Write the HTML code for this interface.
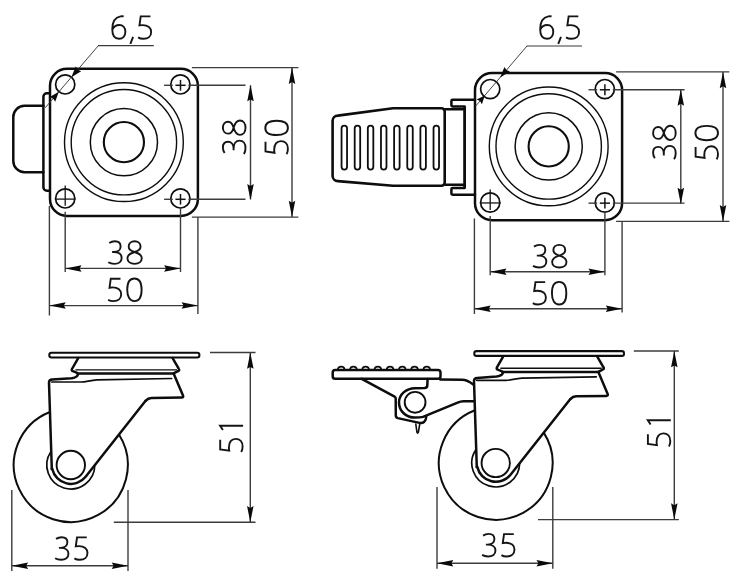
<!DOCTYPE html>
<html><head><meta charset="utf-8"><title>Caster drawing</title>
<style>
html,body{margin:0;padding:0;background:#fff;}
body{width:740px;height:580px;overflow:hidden;font-family:"Liberation Sans",sans-serif;}
svg{display:block}
</style></head><body>
<svg width="740" height="580" viewBox="0 0 740 580">
<rect width="740" height="580" fill="#ffffff"/>
<path d="M67.00,68.80 H180.90 A17.0,17.0 0 0 1 197.90,85.80 V198.90 A17.0,17.0 0 0 1 180.90,215.90 H67.00 A17.0,17.0 0 0 1 50.00,198.90 V85.80 A17.0,17.0 0 0 1 67.00,68.80 Z" fill="none" stroke="#0d0d0d" stroke-width="2.5" stroke-linejoin="round" stroke-linecap="round"/>
<circle cx="123.90" cy="142.15" r="59.40" fill="none" stroke="#0d0d0d" stroke-width="1.4"/>
<circle cx="123.90" cy="142.15" r="52.70" fill="none" stroke="#0d0d0d" stroke-width="1.4"/>
<circle cx="123.90" cy="142.15" r="33.60" fill="none" stroke="#0d0d0d" stroke-width="1.5"/>
<circle cx="123.90" cy="142.15" r="20.10" fill="none" stroke="#0d0d0d" stroke-width="2.1"/>
<circle cx="65.20" cy="84.40" r="9.60" fill="none" stroke="#0d0d0d" stroke-width="1.7"/>
<circle cx="65.20" cy="198.40" r="9.60" fill="none" stroke="#0d0d0d" stroke-width="1.7"/>
<circle cx="180.40" cy="84.40" r="9.60" fill="none" stroke="#0d0d0d" stroke-width="1.7"/>
<circle cx="180.40" cy="198.40" r="9.60" fill="none" stroke="#0d0d0d" stroke-width="1.7"/>
<path d="M43.4,105.8 H24.5 A11.2,11.2 0 0 0 13.3,117 V161 A11.2,11.2 0 0 0 24.5,172.2 H43.4" fill="none" stroke="#0d0d0d" stroke-width="2.5" stroke-linejoin="round" stroke-linecap="round"/>
<path d="M49.8,93.3 H46.9 A3.5,3.5 0 0 0 43.4,96.8 V187.2 A3.5,3.5 0 0 0 46.9,190.7 H49.8" fill="none" stroke="#0d0d0d" stroke-width="2.5" stroke-linejoin="round" stroke-linecap="round"/>
<line x1="164.10" y1="85.30" x2="172.80" y2="85.30" stroke="#3c3c3c" stroke-width="1.4" stroke-linecap="butt"/>
<line x1="188.40" y1="85.30" x2="245.50" y2="85.30" stroke="#3c3c3c" stroke-width="1.4" stroke-linecap="butt"/>
<line x1="175.40" y1="85.30" x2="185.60" y2="85.30" stroke="#151515" stroke-width="1.5" stroke-linecap="butt"/>
<line x1="164.10" y1="199.30" x2="172.80" y2="199.30" stroke="#3c3c3c" stroke-width="1.4" stroke-linecap="butt"/>
<line x1="188.40" y1="199.30" x2="245.50" y2="199.30" stroke="#3c3c3c" stroke-width="1.4" stroke-linecap="butt"/>
<line x1="175.40" y1="199.30" x2="185.60" y2="199.30" stroke="#151515" stroke-width="1.5" stroke-linecap="butt"/>
<line x1="180.50" y1="79.90" x2="180.50" y2="90.70" stroke="#151515" stroke-width="1.5" stroke-linecap="butt"/>
<line x1="180.50" y1="194.00" x2="180.50" y2="204.60" stroke="#151515" stroke-width="1.5" stroke-linecap="butt"/>
<line x1="180.50" y1="208.00" x2="180.50" y2="272.00" stroke="#3c3c3c" stroke-width="1.4" stroke-linecap="butt"/>
<line x1="65.20" y1="185.50" x2="65.20" y2="205.80" stroke="#151515" stroke-width="1.3" stroke-linecap="butt"/>
<line x1="65.20" y1="211.80" x2="65.20" y2="272.00" stroke="#3c3c3c" stroke-width="1.4" stroke-linecap="butt"/>
<line x1="54.80" y1="199.10" x2="75.60" y2="199.10" stroke="#151515" stroke-width="1.3" stroke-linecap="butt"/>
<line x1="191.90" y1="67.60" x2="298.40" y2="67.60" stroke="#3c3c3c" stroke-width="1.4" stroke-linecap="butt"/>
<line x1="191.90" y1="217.10" x2="298.40" y2="217.10" stroke="#3c3c3c" stroke-width="1.4" stroke-linecap="butt"/>
<line x1="250.50" y1="85.30" x2="250.50" y2="199.30" stroke="#3c3c3c" stroke-width="1.4" stroke-linecap="butt"/>
<polygon points="250.50,85.00 247.25,101.30 250.50,99.40 253.75,101.30" fill="#0a0a0a"/>
<polygon points="250.50,200.30 253.75,184.00 250.50,185.90 247.25,184.00" fill="#0a0a0a"/>
<line x1="292.00" y1="67.60" x2="292.00" y2="217.10" stroke="#3c3c3c" stroke-width="1.4" stroke-linecap="butt"/>
<polygon points="292.00,67.60 288.75,83.90 292.00,82.00 295.25,83.90" fill="#0a0a0a"/>
<polygon points="292.00,217.10 295.25,200.80 292.00,202.70 288.75,200.80" fill="#0a0a0a"/>
<line x1="49.40" y1="205.90" x2="49.40" y2="315.50" stroke="#3c3c3c" stroke-width="1.4" stroke-linecap="butt"/>
<line x1="197.90" y1="217.10" x2="197.90" y2="314.00" stroke="#3c3c3c" stroke-width="1.4" stroke-linecap="butt"/>
<line x1="65.20" y1="268.40" x2="180.40" y2="268.40" stroke="#3c3c3c" stroke-width="1.4" stroke-linecap="butt"/>
<polygon points="65.20,268.40 81.50,271.65 79.60,268.40 81.50,265.15" fill="#0a0a0a"/>
<polygon points="180.40,268.40 164.10,265.15 166.00,268.40 164.10,271.65" fill="#0a0a0a"/>
<line x1="49.40" y1="305.60" x2="197.90" y2="305.60" stroke="#3c3c3c" stroke-width="1.4" stroke-linecap="butt"/>
<polygon points="49.40,305.60 65.70,308.85 63.80,305.60 65.70,302.35" fill="#0a0a0a"/>
<polygon points="197.90,305.60 181.60,302.35 183.50,305.60 181.60,308.85" fill="#0a0a0a"/>
<g transform="translate(125.30,252.60) rotate(0)" fill="none" stroke="#151515" stroke-width="1.9" stroke-linecap="butt" stroke-linejoin="miter">
<path transform="translate(-17.71,-12.2)" d="M1.68,2.6 C3.26,1.5 5.15,0.9 7.25,0.9 C10.92,0.9 13.02,3 13.02,6 C13.02,9.2 10.29,11.6 6.30,11.6 L4.51,11.6 M6.30,11.6 C11.13,11.6 14.07,13.9 14.07,17.5 C14.07,21.2 11.13,23.5 6.72,23.5 C4.30,23.5 2.10,22.8 0.73,21.9"/>
<path transform="translate(0.91,-12.2)" d="M8.40,11.6 C4.70,10.6 2.46,8.8 2.46,6.1 C2.46,3 5.04,0.9 8.40,0.9 C11.76,0.9 14.34,3 14.34,6.1 C14.34,8.8 12.10,10.6 8.40,11.6 C4.03,12.9 1.23,14.8 1.23,17.9 C1.23,21.2 4.26,23.5 8.40,23.5 C12.54,23.5 15.57,21.2 15.57,17.9 C15.57,14.8 12.77,12.9 8.40,11.6 Z"/>
</g>
<g transform="translate(125.30,289.80) rotate(0)" fill="none" stroke="#151515" stroke-width="1.9" stroke-linecap="butt" stroke-linejoin="miter">
<path transform="translate(-17.78,-12.2)" d="M12.96,1.1 L3.24,1.1 L1.99,10.1 C3.03,9.9 4.08,9.8 5.22,9.8 C10.45,9.8 13.69,12.3 13.69,16.6 C13.69,20.8 10.66,23.5 6.06,23.5 C3.76,23.5 1.78,22.9 0.63,22.1"/>
<path transform="translate(0.45,-12.2)" d="M8.66,0.9 C13.22,0.9 15.85,5.2 15.85,12.2 C15.85,19.2 13.22,23.5 8.66,23.5 C4.10,23.5 1.48,19.2 1.48,12.2 C1.48,5.2 4.10,0.9 8.66,0.9 Z"/>
</g>
<g transform="translate(234.20,137.00) rotate(-90)" fill="none" stroke="#151515" stroke-width="1.9" stroke-linecap="butt" stroke-linejoin="miter">
<path transform="translate(-17.71,-12.2)" d="M1.68,2.6 C3.26,1.5 5.15,0.9 7.25,0.9 C10.92,0.9 13.02,3 13.02,6 C13.02,9.2 10.29,11.6 6.30,11.6 L4.51,11.6 M6.30,11.6 C11.13,11.6 14.07,13.9 14.07,17.5 C14.07,21.2 11.13,23.5 6.72,23.5 C4.30,23.5 2.10,22.8 0.73,21.9"/>
<path transform="translate(0.91,-12.2)" d="M8.40,11.6 C4.70,10.6 2.46,8.8 2.46,6.1 C2.46,3 5.04,0.9 8.40,0.9 C11.76,0.9 14.34,3 14.34,6.1 C14.34,8.8 12.10,10.6 8.40,11.6 C4.03,12.9 1.23,14.8 1.23,17.9 C1.23,21.2 4.26,23.5 8.40,23.5 C12.54,23.5 15.57,21.2 15.57,17.9 C15.57,14.8 12.77,12.9 8.40,11.6 Z"/>
</g>
<g transform="translate(276.60,137.00) rotate(-90)" fill="none" stroke="#151515" stroke-width="1.9" stroke-linecap="butt" stroke-linejoin="miter">
<path transform="translate(-17.78,-12.2)" d="M12.96,1.1 L3.24,1.1 L1.99,10.1 C3.03,9.9 4.08,9.8 5.22,9.8 C10.45,9.8 13.69,12.3 13.69,16.6 C13.69,20.8 10.66,23.5 6.06,23.5 C3.76,23.5 1.78,22.9 0.63,22.1"/>
<path transform="translate(0.45,-12.2)" d="M8.66,0.9 C13.22,0.9 15.85,5.2 15.85,12.2 C15.85,19.2 13.22,23.5 8.66,23.5 C4.10,23.5 1.48,19.2 1.48,12.2 C1.48,5.2 4.10,0.9 8.66,0.9 Z"/>
</g>
<line x1="98.00" y1="45.60" x2="153.80" y2="45.60" stroke="#3a3a3a" stroke-width="1.05" stroke-linecap="butt"/>
<line x1="98.40" y1="45.60" x2="45.24" y2="107.73" stroke="#3a3a3a" stroke-width="0.95" stroke-linecap="butt"/>
<polygon points="71.31,77.26 81.20,71.24 77.81,69.66 75.73,66.56" fill="#0a0a0a"/>
<polygon points="58.83,91.85 49.72,96.95 53.11,98.53 55.19,101.63" fill="#0a0a0a"/>
<g transform="translate(131.60,27.50) rotate(0)" fill="none" stroke="#151515" stroke-width="1.9" stroke-linecap="butt" stroke-linejoin="miter">
<path transform="translate(-20.52,-12.2)" d="M12.60,1.1 C11.60,0.9 10.60,0.9 9.40,1.1 C4.40,2 1.20,6.8 1.20,14 C1.20,20 3.70,23.5 8.00,23.5 C11.80,23.5 14.30,20.6 14.30,16.5 C14.30,12.4 11.90,9.7 8.20,9.7 C5.20,9.7 2.60,11.6 1.30,14.4"/>
<path transform="translate(-2.12,-12.2)" d="M3.60,21.6 L0.90,28.6"/>
<path transform="translate(5.88,-12.2)" d="M12.96,1.1 L3.24,1.1 L1.99,10.1 C3.03,9.9 4.08,9.8 5.22,9.8 C10.45,9.8 13.69,12.3 13.69,16.6 C13.69,20.8 10.66,23.5 6.06,23.5 C3.76,23.5 1.78,22.9 0.63,22.1"/>
</g>
<path d="M492.00,73.10 H605.10 A17.0,17.0 0 0 1 622.10,90.10 V203.20 A17.0,17.0 0 0 1 605.10,220.20 H492.00 A17.0,17.0 0 0 1 475.00,203.20 V90.10 A17.0,17.0 0 0 1 492.00,73.10 Z" fill="none" stroke="#0d0d0d" stroke-width="2.5" stroke-linejoin="round" stroke-linecap="round"/>
<circle cx="548.70" cy="146.40" r="59.40" fill="none" stroke="#0d0d0d" stroke-width="1.4"/>
<circle cx="548.70" cy="146.40" r="52.70" fill="none" stroke="#0d0d0d" stroke-width="1.4"/>
<circle cx="548.70" cy="146.40" r="33.60" fill="none" stroke="#0d0d0d" stroke-width="1.5"/>
<circle cx="548.70" cy="146.40" r="20.10" fill="none" stroke="#0d0d0d" stroke-width="2.1"/>
<circle cx="490.20" cy="89.10" r="9.60" fill="none" stroke="#0d0d0d" stroke-width="1.7"/>
<circle cx="490.20" cy="202.50" r="9.60" fill="none" stroke="#0d0d0d" stroke-width="1.7"/>
<circle cx="604.80" cy="89.10" r="9.60" fill="none" stroke="#0d0d0d" stroke-width="1.7"/>
<circle cx="604.80" cy="202.50" r="9.60" fill="none" stroke="#0d0d0d" stroke-width="1.7"/>
<line x1="588.50" y1="89.75" x2="597.20" y2="89.75" stroke="#3c3c3c" stroke-width="1.4" stroke-linecap="butt"/>
<line x1="612.80" y1="89.75" x2="684.60" y2="89.75" stroke="#3c3c3c" stroke-width="1.4" stroke-linecap="butt"/>
<line x1="599.80" y1="89.75" x2="610.00" y2="89.75" stroke="#151515" stroke-width="1.5" stroke-linecap="butt"/>
<line x1="588.50" y1="203.15" x2="597.20" y2="203.15" stroke="#3c3c3c" stroke-width="1.4" stroke-linecap="butt"/>
<line x1="612.80" y1="203.15" x2="684.60" y2="203.15" stroke="#3c3c3c" stroke-width="1.4" stroke-linecap="butt"/>
<line x1="599.80" y1="203.15" x2="610.00" y2="203.15" stroke="#151515" stroke-width="1.5" stroke-linecap="butt"/>
<line x1="604.90" y1="84.35" x2="604.90" y2="95.15" stroke="#151515" stroke-width="1.5" stroke-linecap="butt"/>
<line x1="604.90" y1="197.85" x2="604.90" y2="208.45" stroke="#151515" stroke-width="1.5" stroke-linecap="butt"/>
<line x1="604.90" y1="212.10" x2="604.90" y2="275.30" stroke="#3c3c3c" stroke-width="1.4" stroke-linecap="butt"/>
<line x1="490.20" y1="189.60" x2="490.20" y2="209.90" stroke="#151515" stroke-width="1.3" stroke-linecap="butt"/>
<line x1="490.20" y1="215.90" x2="490.20" y2="275.30" stroke="#3c3c3c" stroke-width="1.4" stroke-linecap="butt"/>
<line x1="479.80" y1="202.95" x2="500.60" y2="202.95" stroke="#151515" stroke-width="1.3" stroke-linecap="butt"/>
<line x1="616.10" y1="71.90" x2="729.40" y2="71.90" stroke="#3c3c3c" stroke-width="1.4" stroke-linecap="butt"/>
<line x1="616.10" y1="221.40" x2="729.40" y2="221.40" stroke="#3c3c3c" stroke-width="1.4" stroke-linecap="butt"/>
<line x1="680.80" y1="89.75" x2="680.80" y2="203.15" stroke="#3c3c3c" stroke-width="1.4" stroke-linecap="butt"/>
<polygon points="680.80,89.45 677.55,105.75 680.80,103.85 684.05,105.75" fill="#0a0a0a"/>
<polygon points="680.80,204.15 684.05,187.85 680.80,189.75 677.55,187.85" fill="#0a0a0a"/>
<line x1="723.00" y1="71.90" x2="723.00" y2="221.40" stroke="#3c3c3c" stroke-width="1.4" stroke-linecap="butt"/>
<polygon points="723.00,71.90 719.75,88.20 723.00,86.30 726.25,88.20" fill="#0a0a0a"/>
<polygon points="723.00,221.40 726.25,205.10 723.00,207.00 719.75,205.10" fill="#0a0a0a"/>
<line x1="474.40" y1="218.50" x2="474.40" y2="314.00" stroke="#3c3c3c" stroke-width="1.4" stroke-linecap="butt"/>
<line x1="622.10" y1="221.40" x2="622.10" y2="312.50" stroke="#3c3c3c" stroke-width="1.4" stroke-linecap="butt"/>
<line x1="490.20" y1="271.70" x2="604.80" y2="271.70" stroke="#3c3c3c" stroke-width="1.4" stroke-linecap="butt"/>
<polygon points="490.20,271.70 506.50,274.95 504.60,271.70 506.50,268.45" fill="#0a0a0a"/>
<polygon points="604.80,271.70 588.50,268.45 590.40,271.70 588.50,274.95" fill="#0a0a0a"/>
<line x1="474.40" y1="308.80" x2="622.10" y2="308.80" stroke="#3c3c3c" stroke-width="1.4" stroke-linecap="butt"/>
<polygon points="474.40,308.80 490.70,312.05 488.80,308.80 490.70,305.55" fill="#0a0a0a"/>
<polygon points="622.10,308.80 605.80,305.55 607.70,308.80 605.80,312.05" fill="#0a0a0a"/>
<g transform="translate(550.00,256.20) rotate(0)" fill="none" stroke="#151515" stroke-width="1.9" stroke-linecap="butt" stroke-linejoin="miter">
<path transform="translate(-17.71,-12.2)" d="M1.68,2.6 C3.26,1.5 5.15,0.9 7.25,0.9 C10.92,0.9 13.02,3 13.02,6 C13.02,9.2 10.29,11.6 6.30,11.6 L4.51,11.6 M6.30,11.6 C11.13,11.6 14.07,13.9 14.07,17.5 C14.07,21.2 11.13,23.5 6.72,23.5 C4.30,23.5 2.10,22.8 0.73,21.9"/>
<path transform="translate(0.91,-12.2)" d="M8.40,11.6 C4.70,10.6 2.46,8.8 2.46,6.1 C2.46,3 5.04,0.9 8.40,0.9 C11.76,0.9 14.34,3 14.34,6.1 C14.34,8.8 12.10,10.6 8.40,11.6 C4.03,12.9 1.23,14.8 1.23,17.9 C1.23,21.2 4.26,23.5 8.40,23.5 C12.54,23.5 15.57,21.2 15.57,17.9 C15.57,14.8 12.77,12.9 8.40,11.6 Z"/>
</g>
<g transform="translate(550.00,293.20) rotate(0)" fill="none" stroke="#151515" stroke-width="1.9" stroke-linecap="butt" stroke-linejoin="miter">
<path transform="translate(-17.78,-12.2)" d="M12.96,1.1 L3.24,1.1 L1.99,10.1 C3.03,9.9 4.08,9.8 5.22,9.8 C10.45,9.8 13.69,12.3 13.69,16.6 C13.69,20.8 10.66,23.5 6.06,23.5 C3.76,23.5 1.78,22.9 0.63,22.1"/>
<path transform="translate(0.45,-12.2)" d="M8.66,0.9 C13.22,0.9 15.85,5.2 15.85,12.2 C15.85,19.2 13.22,23.5 8.66,23.5 C4.10,23.5 1.48,19.2 1.48,12.2 C1.48,5.2 4.10,0.9 8.66,0.9 Z"/>
</g>
<g transform="translate(664.40,142.20) rotate(-90)" fill="none" stroke="#151515" stroke-width="1.9" stroke-linecap="butt" stroke-linejoin="miter">
<path transform="translate(-17.71,-12.2)" d="M1.68,2.6 C3.26,1.5 5.15,0.9 7.25,0.9 C10.92,0.9 13.02,3 13.02,6 C13.02,9.2 10.29,11.6 6.30,11.6 L4.51,11.6 M6.30,11.6 C11.13,11.6 14.07,13.9 14.07,17.5 C14.07,21.2 11.13,23.5 6.72,23.5 C4.30,23.5 2.10,22.8 0.73,21.9"/>
<path transform="translate(0.91,-12.2)" d="M8.40,11.6 C4.70,10.6 2.46,8.8 2.46,6.1 C2.46,3 5.04,0.9 8.40,0.9 C11.76,0.9 14.34,3 14.34,6.1 C14.34,8.8 12.10,10.6 8.40,11.6 C4.03,12.9 1.23,14.8 1.23,17.9 C1.23,21.2 4.26,23.5 8.40,23.5 C12.54,23.5 15.57,21.2 15.57,17.9 C15.57,14.8 12.77,12.9 8.40,11.6 Z"/>
</g>
<g transform="translate(706.70,142.20) rotate(-90)" fill="none" stroke="#151515" stroke-width="1.9" stroke-linecap="butt" stroke-linejoin="miter">
<path transform="translate(-17.78,-12.2)" d="M12.96,1.1 L3.24,1.1 L1.99,10.1 C3.03,9.9 4.08,9.8 5.22,9.8 C10.45,9.8 13.69,12.3 13.69,16.6 C13.69,20.8 10.66,23.5 6.06,23.5 C3.76,23.5 1.78,22.9 0.63,22.1"/>
<path transform="translate(0.45,-12.2)" d="M8.66,0.9 C13.22,0.9 15.85,5.2 15.85,12.2 C15.85,19.2 13.22,23.5 8.66,23.5 C4.10,23.5 1.48,19.2 1.48,12.2 C1.48,5.2 4.10,0.9 8.66,0.9 Z"/>
</g>
<line x1="526.60" y1="46.00" x2="582.00" y2="46.00" stroke="#3a3a3a" stroke-width="1.05" stroke-linecap="butt"/>
<line x1="527.00" y1="46.00" x2="475.78" y2="105.98" stroke="#3a3a3a" stroke-width="0.95" stroke-linecap="butt"/>
<polygon points="500.20,77.39 509.74,71.60 506.43,70.09 504.42,67.05" fill="#0a0a0a"/>
<polygon points="484.75,95.49 476.63,99.60 479.94,101.12 481.95,104.15" fill="#0a0a0a"/>
<g transform="translate(559.50,27.50) rotate(0)" fill="none" stroke="#151515" stroke-width="1.9" stroke-linecap="butt" stroke-linejoin="miter">
<path transform="translate(-20.52,-12.2)" d="M12.60,1.1 C11.60,0.9 10.60,0.9 9.40,1.1 C4.40,2 1.20,6.8 1.20,14 C1.20,20 3.70,23.5 8.00,23.5 C11.80,23.5 14.30,20.6 14.30,16.5 C14.30,12.4 11.90,9.7 8.20,9.7 C5.20,9.7 2.60,11.6 1.30,14.4"/>
<path transform="translate(-2.12,-12.2)" d="M3.60,21.6 L0.90,28.6"/>
<path transform="translate(5.88,-12.2)" d="M12.96,1.1 L3.24,1.1 L1.99,10.1 C3.03,9.9 4.08,9.8 5.22,9.8 C10.45,9.8 13.69,12.3 13.69,16.6 C13.69,20.8 10.66,23.5 6.06,23.5 C3.76,23.5 1.78,22.9 0.63,22.1"/>
</g>
<path d="M337.8,115.6 L393,108.3 H441.4 A3.2,3.2 0 0 1 444.7,111.5 V182.5 A3.2,3.2 0 0 1 441.4,185.7 H393 L337.8,181.1 A5.2,5.2 0 0 1 332.6,176 V120.8 A5.2,5.2 0 0 1 337.8,115.6 Z" fill="none" stroke="#0d0d0d" stroke-width="2.6" stroke-linejoin="round" stroke-linecap="round"/>
<rect x="341.55" y="125.6" width="5.5" height="44.00" rx="2.75" ry="2.75" fill="none" stroke="#0d0d0d" stroke-width="1.8"/>
<rect x="354.69" y="125.6" width="5.5" height="44.00" rx="2.75" ry="2.75" fill="none" stroke="#0d0d0d" stroke-width="1.8"/>
<rect x="367.83" y="125.6" width="5.5" height="44.00" rx="2.75" ry="2.75" fill="none" stroke="#0d0d0d" stroke-width="1.8"/>
<rect x="380.97" y="125.6" width="5.5" height="44.00" rx="2.75" ry="2.75" fill="none" stroke="#0d0d0d" stroke-width="1.8"/>
<rect x="394.11" y="125.6" width="5.5" height="44.00" rx="2.75" ry="2.75" fill="none" stroke="#0d0d0d" stroke-width="1.8"/>
<rect x="407.25" y="125.6" width="5.5" height="44.00" rx="2.75" ry="2.75" fill="none" stroke="#0d0d0d" stroke-width="1.8"/>
<rect x="420.39" y="125.6" width="5.5" height="44.00" rx="2.75" ry="2.75" fill="none" stroke="#0d0d0d" stroke-width="1.8"/>
<rect x="433.53" y="125.6" width="5.5" height="44.00" rx="2.75" ry="2.75" fill="none" stroke="#0d0d0d" stroke-width="1.8"/>
<path d="M444.7,109.2 H464.6 M444.7,184.8 H464.6" fill="none" stroke="#0d0d0d" stroke-width="2.5" stroke-linejoin="round" stroke-linecap="round"/>
<path d="M464.6,106.4 V188.0" fill="none" stroke="#0d0d0d" stroke-width="2.8" stroke-linejoin="round" stroke-linecap="butt"/>
<path d="M475.00,99.8 H452.6 A1.2,1.2 0 0 0 451.4,101 V105.2 A1.2,1.2 0 0 0 452.6,106.4 H464.6" fill="none" stroke="#0d0d0d" stroke-width="2.5" stroke-linejoin="round" stroke-linecap="round"/>
<path d="M475.00,194.8 H452.6 A1.2,1.2 0 0 1 451.4,193.6 V189.2 A1.2,1.2 0 0 1 452.6,188.0 H464.6" fill="none" stroke="#0d0d0d" stroke-width="2.5" stroke-linejoin="round" stroke-linecap="round"/>
<rect x="49.30" y="352.65" width="150.1" height="4.75" rx="2.2" ry="2.2" fill="none" stroke="#0d0d0d" stroke-width="2.05"/>
<path d="M78.20,358.10 L72.00,369.00 Q71.20,370.60 72.80,371.20 L76.60,372.70 Q78.60,373.60 77.80,375.00 Q76.50,377.60 71.50,378.20 L52.20,379.60 Q49.00,379.80 49.00,382.60 L51.80,469.00" fill="none" stroke="#0d0d0d" stroke-width="2.5" stroke-linejoin="round" stroke-linecap="round"/>
<path d="M172.60,358.10 L178.70,368.60 Q180.00,370.60 178.00,371.20 L173.60,373.40 L183.00,395.60 Q183.80,397.60 181.60,397.60 L151.50,398.00 Q148.00,398.10 145.60,400.80" fill="none" stroke="#0d0d0d" stroke-width="2.5" stroke-linejoin="round" stroke-linecap="round"/>
<path d="M75.40,369.90 H177.00" fill="none" stroke="#0d0d0d" stroke-width="1.4" stroke-linejoin="round" stroke-linecap="butt"/>
<path d="M77.60,373.50 H173.60" fill="none" stroke="#0d0d0d" stroke-width="2.5" stroke-linejoin="round" stroke-linecap="round"/>
<path d="M51.80,382.00 H81.00 C86.00,382.00 90.00,380.20 97.00,379.80 L171.60,378.50" fill="none" stroke="#0d0d0d" stroke-width="1.7" stroke-linejoin="round" stroke-linecap="round"/>
<circle cx="70.80" cy="465.00" r="14.20" fill="none" stroke="#0d0d0d" stroke-width="1.9"/>
<path d="M51.80,469.00 L52.31,468.89 A18.9,18.9 0 0 0 85.63,476.72 L145.60,400.80" fill="none" stroke="#0d0d0d" stroke-width="2.5" stroke-linejoin="round" stroke-linecap="round"/>
<path d="M50.70,451.89 A24.0,24.0 0 1 0 94.80,465.11" fill="none" stroke="#0d0d0d" stroke-width="1.7" stroke-linejoin="round" stroke-linecap="butt"/>
<path d="M49.90,411.97 A57.0,57.0 0 1 0 118.96,434.52" fill="none" stroke="#0d0d0d" stroke-width="2.0" stroke-linejoin="round" stroke-linecap="butt"/>
<line x1="210.00" y1="352.50" x2="255.50" y2="352.50" stroke="#3c3c3c" stroke-width="1.4" stroke-linecap="butt"/>
<line x1="113.80" y1="522.30" x2="255.50" y2="522.30" stroke="#3c3c3c" stroke-width="1.4" stroke-linecap="butt"/>
<line x1="250.30" y1="352.50" x2="250.30" y2="522.30" stroke="#3c3c3c" stroke-width="1.4" stroke-linecap="butt"/>
<polygon points="250.30,352.50 247.05,368.80 250.30,366.90 253.55,368.80" fill="#0a0a0a"/>
<polygon points="250.30,522.30 253.55,506.00 250.30,507.90 247.05,506.00" fill="#0a0a0a"/>
<line x1="11.80" y1="490.00" x2="11.80" y2="571.00" stroke="#3c3c3c" stroke-width="1.4" stroke-linecap="butt"/>
<line x1="128.00" y1="490.00" x2="128.00" y2="571.00" stroke="#3c3c3c" stroke-width="1.4" stroke-linecap="butt"/>
<line x1="11.80" y1="565.80" x2="128.00" y2="565.80" stroke="#3c3c3c" stroke-width="1.4" stroke-linecap="butt"/>
<polygon points="11.80,565.80 28.10,569.05 26.20,565.80 28.10,562.55" fill="#0a0a0a"/>
<polygon points="128.00,565.80 111.70,562.55 113.60,565.80 111.70,569.05" fill="#0a0a0a"/>
<g transform="translate(71.40,548.50) rotate(0)" fill="none" stroke="#151515" stroke-width="1.9" stroke-linecap="butt" stroke-linejoin="miter">
<path transform="translate(-17.02,-12.2)" d="M1.68,2.6 C3.26,1.5 5.15,0.9 7.25,0.9 C10.92,0.9 13.02,3 13.02,6 C13.02,9.2 10.29,11.6 6.30,11.6 L4.51,11.6 M6.30,11.6 C11.13,11.6 14.07,13.9 14.07,17.5 C14.07,21.2 11.13,23.5 6.72,23.5 C4.30,23.5 2.10,22.8 0.73,21.9"/>
<path transform="translate(2.39,-12.2)" d="M12.96,1.1 L3.24,1.1 L1.99,10.1 C3.03,9.9 4.08,9.8 5.22,9.8 C10.45,9.8 13.69,12.3 13.69,16.6 C13.69,20.8 10.66,23.5 6.06,23.5 C3.76,23.5 1.78,22.9 0.63,22.1"/>
</g>
<g transform="translate(231.30,436.50) rotate(-90)" fill="none" stroke="#151515" stroke-width="1.9" stroke-linecap="butt" stroke-linejoin="miter">
<path transform="translate(-16.11,-12.2)" d="M12.96,1.1 L3.24,1.1 L1.99,10.1 C3.03,9.9 4.08,9.8 5.22,9.8 C10.45,9.8 13.69,12.3 13.69,16.6 C13.69,20.8 10.66,23.5 6.06,23.5 C3.76,23.5 1.78,22.9 0.63,22.1"/>
<path transform="translate(2.12,-12.2)" d="M4.40,3.8 L8.60,1.0 L8.60,24.0"/>
</g>
<g transform="translate(473.30,350.10) scale(0.9974,0.9956) translate(-48.3,-351.6)">
<rect x="49.30" y="352.65" width="150.1" height="4.75" rx="2.2" ry="2.2" fill="none" stroke="#0d0d0d" stroke-width="2.05"/>
<path d="M78.20,358.10 L72.00,369.00 Q71.20,370.60 72.80,371.20 L76.60,372.70 Q78.60,373.60 77.80,375.00 Q76.50,377.60 71.50,378.20 L52.20,379.60 Q49.00,379.80 49.00,382.60 L51.80,469.00" fill="none" stroke="#0d0d0d" stroke-width="2.5" stroke-linejoin="round" stroke-linecap="round"/>
<path d="M172.60,358.10 L178.70,368.60 Q180.00,370.60 178.00,371.20 L173.60,373.40 L183.00,395.60 Q183.80,397.60 181.60,397.60 L151.50,398.00 Q148.00,398.10 145.60,400.80" fill="none" stroke="#0d0d0d" stroke-width="2.5" stroke-linejoin="round" stroke-linecap="round"/>
<path d="M75.40,369.90 H177.00" fill="none" stroke="#0d0d0d" stroke-width="1.4" stroke-linejoin="round" stroke-linecap="butt"/>
<path d="M77.60,373.50 H173.60" fill="none" stroke="#0d0d0d" stroke-width="2.5" stroke-linejoin="round" stroke-linecap="round"/>
<path d="M51.80,382.00 H81.00 C86.00,382.00 90.00,380.20 97.00,379.80 L171.60,378.50" fill="none" stroke="#0d0d0d" stroke-width="1.7" stroke-linejoin="round" stroke-linecap="round"/>
<circle cx="70.80" cy="465.00" r="14.20" fill="none" stroke="#0d0d0d" stroke-width="1.9"/>
<path d="M51.80,469.00 L52.31,468.89 A18.9,18.9 0 0 0 85.63,476.72 L145.60,400.80" fill="none" stroke="#0d0d0d" stroke-width="2.5" stroke-linejoin="round" stroke-linecap="round"/>
<path d="M50.70,451.89 A24.0,24.0 0 1 0 94.80,465.11" fill="none" stroke="#0d0d0d" stroke-width="1.7" stroke-linejoin="round" stroke-linecap="butt"/>
<path d="M49.90,411.97 A57.0,57.0 0 1 0 118.96,434.52" fill="none" stroke="#0d0d0d" stroke-width="2.0" stroke-linejoin="round" stroke-linecap="butt"/>
</g>
<line x1="633.80" y1="351.00" x2="678.80" y2="351.00" stroke="#3c3c3c" stroke-width="1.4" stroke-linecap="butt"/>
<line x1="538.00" y1="519.60" x2="678.80" y2="519.60" stroke="#3c3c3c" stroke-width="1.4" stroke-linecap="butt"/>
<line x1="674.30" y1="351.00" x2="674.30" y2="519.60" stroke="#3c3c3c" stroke-width="1.4" stroke-linecap="butt"/>
<polygon points="674.30,351.00 671.05,367.30 674.30,365.40 677.55,367.30" fill="#0a0a0a"/>
<polygon points="674.30,519.60 677.55,503.30 674.30,505.20 671.05,503.30" fill="#0a0a0a"/>
<line x1="437.00" y1="487.00" x2="437.00" y2="568.80" stroke="#3c3c3c" stroke-width="1.4" stroke-linecap="butt"/>
<line x1="552.80" y1="487.00" x2="552.80" y2="568.80" stroke="#3c3c3c" stroke-width="1.4" stroke-linecap="butt"/>
<line x1="437.00" y1="563.30" x2="552.80" y2="563.30" stroke="#3c3c3c" stroke-width="1.4" stroke-linecap="butt"/>
<polygon points="437.00,563.30 453.30,566.55 451.40,563.30 453.30,560.05" fill="#0a0a0a"/>
<polygon points="552.80,563.30 536.50,560.05 538.40,563.30 536.50,566.55" fill="#0a0a0a"/>
<g transform="translate(498.40,545.20) rotate(0)" fill="none" stroke="#151515" stroke-width="1.9" stroke-linecap="butt" stroke-linejoin="miter">
<path transform="translate(-17.02,-12.2)" d="M1.68,2.6 C3.26,1.5 5.15,0.9 7.25,0.9 C10.92,0.9 13.02,3 13.02,6 C13.02,9.2 10.29,11.6 6.30,11.6 L4.51,11.6 M6.30,11.6 C11.13,11.6 14.07,13.9 14.07,17.5 C14.07,21.2 11.13,23.5 6.72,23.5 C4.30,23.5 2.10,22.8 0.73,21.9"/>
<path transform="translate(2.39,-12.2)" d="M12.96,1.1 L3.24,1.1 L1.99,10.1 C3.03,9.9 4.08,9.8 5.22,9.8 C10.45,9.8 13.69,12.3 13.69,16.6 C13.69,20.8 10.66,23.5 6.06,23.5 C3.76,23.5 1.78,22.9 0.63,22.1"/>
</g>
<g transform="translate(659.00,431.00) rotate(-90)" fill="none" stroke="#151515" stroke-width="1.9" stroke-linecap="butt" stroke-linejoin="miter">
<path transform="translate(-16.11,-12.2)" d="M12.96,1.1 L3.24,1.1 L1.99,10.1 C3.03,9.9 4.08,9.8 5.22,9.8 C10.45,9.8 13.69,12.3 13.69,16.6 C13.69,20.8 10.66,23.5 6.06,23.5 C3.76,23.5 1.78,22.9 0.63,22.1"/>
<path transform="translate(2.12,-12.2)" d="M4.40,3.8 L8.60,1.0 L8.60,24.0"/>
</g>
<rect x="332.7" y="370.0" width="107.8" height="8.8" rx="2.6" ry="2.6" fill="none" stroke="#0d0d0d" stroke-width="2.5"/>
<path d="M337.80,370.0 C338.00,365.6 344.40,365.6 344.60,370.0" fill="none" stroke="#0d0d0d" stroke-width="1.7" stroke-linejoin="round" stroke-linecap="round"/>
<path d="M350.02,370.0 C350.22,365.6 356.62,365.6 356.82,370.0" fill="none" stroke="#0d0d0d" stroke-width="1.7" stroke-linejoin="round" stroke-linecap="round"/>
<path d="M362.24,370.0 C362.44,365.6 368.84,365.6 369.04,370.0" fill="none" stroke="#0d0d0d" stroke-width="1.7" stroke-linejoin="round" stroke-linecap="round"/>
<path d="M374.46,370.0 C374.66,365.6 381.06,365.6 381.26,370.0" fill="none" stroke="#0d0d0d" stroke-width="1.7" stroke-linejoin="round" stroke-linecap="round"/>
<path d="M386.68,370.0 C386.88,365.6 393.28,365.6 393.48,370.0" fill="none" stroke="#0d0d0d" stroke-width="1.7" stroke-linejoin="round" stroke-linecap="round"/>
<path d="M398.90,370.0 C399.10,365.6 405.50,365.6 405.70,370.0" fill="none" stroke="#0d0d0d" stroke-width="1.7" stroke-linejoin="round" stroke-linecap="round"/>
<path d="M411.12,370.0 C411.32,365.6 417.72,365.6 417.92,370.0" fill="none" stroke="#0d0d0d" stroke-width="1.7" stroke-linejoin="round" stroke-linecap="round"/>
<path d="M423.34,370.0 C423.54,365.6 429.94,365.6 430.14,370.0" fill="none" stroke="#0d0d0d" stroke-width="1.7" stroke-linejoin="round" stroke-linecap="round"/>
<path d="M361.7,378.8 L394.6,396.6 Q395.7,397.2 395.7,398.6 L395.8,415.6 Q395.8,417.6 397.8,418.1 L419.5,422.9 Q424.6,423.6 425.8,419.0 L426.3,416.2" fill="none" stroke="#0d0d0d" stroke-width="2.5" stroke-linejoin="round" stroke-linecap="round"/>
<circle cx="415.10" cy="402.30" r="10.40" fill="none" stroke="#0d0d0d" stroke-width="1.9"/>
<path d="M427.6,379.0 L427.3,385.6 Q427.2,387.8 424.6,388.0 L415.0,388.2 C406.0,388.4 399.0,394.5 399.0,402.4 C399.0,411.0 406.0,417.6 415.0,417.6 C418.0,417.6 420.5,417.6 423.0,416.9 L457.6,402.7 Q460.6,401.3 463.6,401.3 L473.4,401.3" fill="none" stroke="#0d0d0d" stroke-width="2.5" stroke-linejoin="round" stroke-linecap="round"/>
<path d="M440.3,379.6 L462.0,379.8 C466.0,379.9 469.0,381.2 473.3,384.6" fill="none" stroke="#0d0d0d" stroke-width="2.5" stroke-linejoin="round" stroke-linecap="round"/>
<path d="M415.8,424.0 L416.9,432.0 Q417.6,434.2 418.4,432.0 L419.7,424.3" fill="none" stroke="#0d0d0d" stroke-width="1.6" stroke-linejoin="round" stroke-linecap="round"/>
</svg>
</body></html>
